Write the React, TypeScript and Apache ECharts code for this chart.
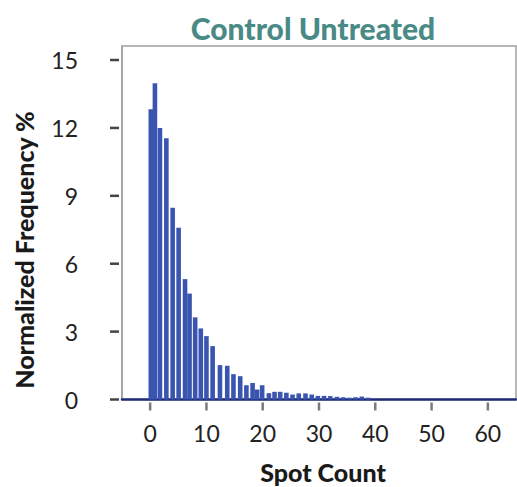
import React, { useEffect, useRef } from "react";
import * as echarts from "echarts";

const titleText = "Control Untreated";
const xAxisName = "Spot Count";
const yAxisName = "Normalized Frequency %";
const xTickValues = [0, 10, 20, 30, 40, 50, 60];
const yTickValues = [0, 3, 6, 9, 12, 15];
const xRange = [-5, 65];
const yRange = [0, 15.62];
const binCenters = [
  0.12, 0.85, 1.74, 2.88, 4.0, 5.06, 6.2, 7.0, 8.0, 9.0, 10.0, 11.1, 12.4, 13.7, 14.8,
  16.0, 17.1, 18.2, 19.0, 19.9, 21.1, 22.1, 23.1, 24.2, 25.3, 26.4, 27.6, 28.7, 29.8,
  30.9, 32.0, 33.2, 34.3, 35.4, 36.5, 37.6, 38.7,
];
const frequencies = [
  12.82, 13.97, 12.0, 11.54, 8.47, 7.59, 5.32, 4.68, 3.63, 3.14, 2.8, 2.36, 1.52, 1.49, 1.12,
  1.03, 0.63, 0.73, 0.44, 0.63, 0.28, 0.34, 0.34, 0.3, 0.22, 0.27, 0.27, 0.22, 0.16,
  0.16, 0.15, 0.12, 0.1, 0.08, 0.1, 0.13, 0.08,
];

export default function App() {
  const ref = useRef<HTMLDivElement>(null);
  useEffect(() => {
    if (!ref.current) return;
    const chart = echarts.init(ref.current, null, { renderer: "svg" });
    const font = "Lato, 'Noto Sans', sans-serif";
    // tick marks: [x, y, orientation] (0 = left axis, 1 = bottom axis)
    const tickData = [
      ...yTickValues.map((v) => [xRange[0], v, 0]),
      ...xTickValues.map((v) => [v, yRange[0], 1]),
    ];
    chart.setOption({
      animation: false,
      backgroundColor: "#ffffff",
      title: {
        text: titleText,
        left: 308,
        textAlign: "center",
        top: 8,
        textStyle: { color: "#4a8a86", fontFamily: font, fontWeight: 900, fontSize: 30 },
      },
      graphic: [
        {
          type: "text",
          x: 24,
          y: 250,
          rotation: Math.PI / 2,
          style: {
            text: yAxisName,
            fontFamily: font,
            fontWeight: 900,
            fontSize: 25,
            fill: "#1a1a1a",
            align: "center",
            verticalAlign: "middle",
          },
        },
        {
          type: "text",
          x: 323,
          y: 472,
          style: {
            text: xAxisName,
            fontFamily: font,
            fontWeight: 900,
            fontSize: 25,
            fill: "#1a1a1a",
            align: "center",
            verticalAlign: "middle",
          },
        },
      ],
      grid: {
        left: 122,
        top: 46,
        width: 394,
        bottom: 87.5,
        show: true,
        borderColor: "#a0a0a0",
        borderWidth: 1.5,
      },
      xAxis: {
        type: "value",
        min: xRange[0],
        max: xRange[1],
        axisLine: { show: true, onZero: false, lineStyle: { color: "#1f2b78", width: 2.5 } },
        axisTick: { show: false },
        axisLabel: {
          customValues: xTickValues,
          margin: 22,
          fontFamily: font,
          fontSize: 23,
          color: "#222222",
        },
        splitLine: { show: false },
      },
      yAxis: {
        type: "value",
        min: yRange[0],
        max: yRange[1],
        axisLine: { show: true, onZero: false, lineStyle: { color: "#a0a0a0", width: 1.5 } },
        axisTick: { show: false },
        axisLabel: {
          customValues: yTickValues,
          margin: 44,
          fontFamily: font,
          fontSize: 23,
          color: "#222222",
          padding: [8, 0, 0, 0],
        },
        splitLine: { show: false },
      },
      series: [
        {
          type: "bar",
          data: binCenters.map((x, i) => [x, frequencies[i]]),
          barWidth: 4.6,
          itemStyle: { color: "#3a55b0" },
        },
        {
          type: "custom",
          silent: true,
          clip: false,
          data: tickData,
          z: 5,
          renderItem: (params: any, api: any) => {
            const p = api.coord([api.value(0), api.value(1)]);
            const horizontal = api.value(2) === 0;
            return {
              type: "line",
              shape: horizontal
                ? { x1: p[0] - 12, y1: p[1], x2: p[0] - 3, y2: p[1] }
                : { x1: p[0], y1: p[1] + 3, x2: p[0], y2: p[1] + 11 },
              style: { stroke: horizontal ? "#444444" : "#7a7a7a", lineWidth: 2.5 },
            };
          },
        },
      ],
    });
    return () => chart.dispose();
  }, []);
  return (
    <div
      ref={ref}
      style={{ position: "fixed", left: 0, top: 0, width: 517, height: 487 }}
    />
  );
}
